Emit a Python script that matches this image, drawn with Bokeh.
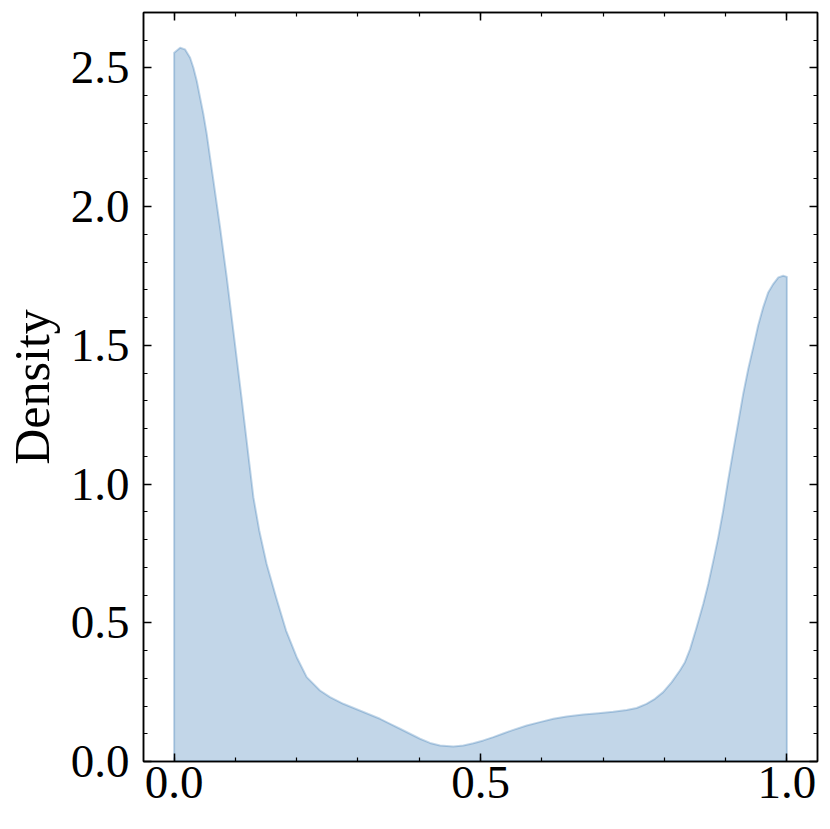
import numpy as np
from bokeh.plotting import figure
from bokeh.models import LinearAxis, FixedTicker, NumeralTickFormatter, Range1d, CustomLabelingPolicy
from bokeh.embed import file_html
from bokeh.resources import INLINE

# KDE density curve
x_vals = [0.0, 0.0098, 0.0179, 0.0261, 0.0315, 0.037, 0.0424, 0.0478, 0.0533, 0.0587,
          0.0642, 0.075, 0.0859, 0.0968, 0.110, 0.1229, 0.1294, 0.139, 0.151, 0.1664,
          0.1827, 0.2001, 0.2164, 0.238, 0.2545, 0.276, 0.303, 0.336, 0.3524, 0.3687,
          0.385, 0.4013, 0.4176, 0.434, 0.4557, 0.472, 0.4883, 0.5046, 0.521, 0.537,
          0.5535, 0.5754, 0.597, 0.619, 0.6406, 0.6677, 0.692, 0.7166, 0.7385, 0.7548,
          0.771, 0.7847, 0.798, 0.812, 0.8254, 0.8336, 0.842, 0.8527, 0.8635, 0.8717,
          0.880, 0.888, 0.896, 0.904, 0.9124, 0.9206, 0.9287, 0.9369, 0.945, 0.953,
          0.9613, 0.9695, 0.9777, 0.986, 0.994, 1.0]
density = [2.555, 2.573, 2.567, 2.537, 2.501, 2.453, 2.393, 2.333, 2.261, 2.177,
           2.093, 1.925, 1.745, 1.550, 1.312, 1.072, 0.952, 0.832, 0.712, 0.592,
           0.472, 0.376, 0.304, 0.256, 0.232, 0.208, 0.184, 0.154, 0.136, 0.118,
           0.100, 0.082, 0.067, 0.058, 0.054, 0.058, 0.066, 0.076, 0.088, 0.101,
           0.114, 0.130, 0.142, 0.154, 0.162, 0.169, 0.174, 0.179, 0.186, 0.193,
           0.208, 0.226, 0.250, 0.286, 0.328, 0.358, 0.405, 0.484, 0.568, 0.640,
           0.724, 0.808, 0.904, 1.012, 1.120, 1.222, 1.325, 1.415, 1.492, 1.571,
           1.637, 1.691, 1.721, 1.745, 1.751, 1.747]

x_major = [0.0, 0.5, 1.0]
x_minor = [round(0.1 * i, 1) for i in range(0, 11)]
y_major = [0.0, 0.5, 1.0, 1.5, 2.0, 2.5]
y_minor = [round(0.1 * i, 1) for i in range(0, 27)]
y_label = "Density"

FONT = "Liberation Serif"
FS = "47px"
COLOR = "#0C5DA5"

p = figure(width=830, height=829, output_backend="svg", toolbar_location=None,
           x_range=Range1d(-0.05, 1.05), y_range=Range1d(0, 2.70),
           min_border_left=143, min_border_top=12, min_border_right=13, min_border_bottom=68)
p.grid.visible = False
p.background_fill_color = "white"
p.border_fill_color = "white"
p.outline_line_color = "black"
p.outline_line_width = 1.5

xs = np.concatenate([[x_vals[0]], np.array(x_vals), [x_vals[-1]]])
ys = np.concatenate([[0.0], np.array(density), [0.0]])
p.patch(xs, ys, fill_color=COLOR, fill_alpha=0.25, line_color=COLOR, line_alpha=0.25,
        line_width=2, line_join="round")

no_labels = CustomLabelingPolicy(code="""
try { return new indices.constructor(indices.size, 0) } catch (e) {}
for (const i of Array.from(indices)) { indices.unset(i) }
return indices
""")

def style(ax, major, minor, labels=True):
    ax.ticker = FixedTicker(ticks=major, minor_ticks=minor)
    ax.major_tick_in = 8
    ax.major_tick_out = 0
    ax.minor_tick_in = 4
    ax.minor_tick_out = 0
    ax.major_tick_line_width = 1.5
    ax.minor_tick_line_width = 1.2
    ax.axis_line_width = 1.5
    ax.major_tick_line_color = "black"
    ax.minor_tick_line_color = "black"
    ax.axis_line_color = "black"
    if labels:
        ax.formatter = NumeralTickFormatter(format="0.0")
        ax.major_label_text_font = FONT
        ax.major_label_text_font_size = FS
        ax.major_label_text_color = "black"
    else:
        ax.major_label_policy = no_labels
        ax.major_label_text_font_size = "0px"
        ax.major_label_standoff = 0

style(p.xaxis[0], x_major, x_minor)
style(p.yaxis[0], y_major, y_minor)
p.xaxis[0].major_label_standoff = 5
p.yaxis[0].major_label_standoff = 14
p.yaxis[0].axis_label = y_label
p.yaxis[0].axis_label_text_font = FONT
p.yaxis[0].axis_label_text_font_size = "50px"
p.yaxis[0].axis_label_text_font_style = "normal"
p.yaxis[0].axis_label_text_color = "black"
p.yaxis[0].axis_label_standoff = 8

top = LinearAxis()
style(top, x_major, x_minor, labels=False)
p.add_layout(top, "above")
right = LinearAxis()
style(right, y_major, y_minor, labels=False)
p.add_layout(right, "right")

open("out.html", "w").write(file_html(p, INLINE))
